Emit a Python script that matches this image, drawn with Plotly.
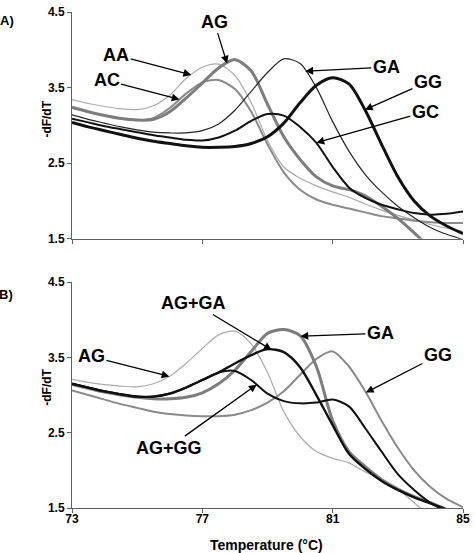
import numpy as np
import plotly.graph_objects as go

# ---------------- data ----------------
temps = [73.0, 73.5, 74.0, 74.5, 75.0, 75.5, 76.0, 76.5, 77.0, 77.5, 78.0, 78.5,
         79.0, 79.5, 80.0, 80.5, 81.0, 81.5, 82.0, 82.5, 83.0, 83.5, 84.0, 84.5, 85.0]

# Panel A
a_AA = [3.34, 3.29, 3.25, 3.22, 3.21, 3.26, 3.40, 3.62, 3.77, 3.81, 3.66, 3.30,
        2.80, 2.45, 2.30, 2.20, 2.12, 2.05, 1.96, 1.88, 1.81, 1.75, 1.69, 1.64, 1.60]
a_AC = [3.23, 3.18, 3.13, 3.09, 3.07, 3.10, 3.23, 3.42, 3.57, 3.60, 3.48, 3.18,
        2.75, 2.38, 2.15, 2.02, 1.95, 1.90, 1.85, 1.80, 1.77, 1.74, 1.72, 1.71, 1.71]
a_AG = [3.24, 3.18, 3.13, 3.09, 3.07, 3.08, 3.18, 3.36, 3.56, 3.76, 3.87, 3.72,
        3.28, 2.85, 2.55, 2.32, 2.20, 2.15, 2.07, 1.93, 1.77, 1.58, 1.38, 1.20, 1.05]
a_GA = [3.14, 3.08, 3.03, 2.98, 2.94, 2.91, 2.90, 2.90, 2.93, 3.02, 3.20, 3.45,
        3.70, 3.88, 3.82, 3.50, 3.05, 2.66, 2.35, 2.12, 1.93, 1.78, 1.65, 1.56, 1.49]
a_GG = [3.04, 2.98, 2.93, 2.88, 2.83, 2.79, 2.76, 2.73, 2.71, 2.71, 2.72, 2.76,
        2.85, 3.03, 3.30, 3.53, 3.63, 3.55, 3.20, 2.75, 2.32, 2.00, 1.80, 1.67, 1.57]
a_GC = [3.09, 3.04, 2.99, 2.95, 2.91, 2.87, 2.84, 2.81, 2.80, 2.84, 2.93, 3.06,
        3.15, 3.13, 2.98, 2.77, 2.45, 2.18, 2.04, 1.95, 1.89, 1.84, 1.82, 1.83, 1.86]

# Panel B
b_AG = [3.21, 3.17, 3.14, 3.12, 3.11, 3.15, 3.25, 3.42, 3.62, 3.80, 3.85, 3.68,
        3.30, 2.78, 2.45, 2.25, 2.16, 2.10, 1.98, 1.88, 1.75, 1.57, 1.38, 1.20, 1.05]
b_AGGA = [3.15, 3.10, 3.05, 3.01, 2.98, 2.98, 3.02, 3.10, 3.20, 3.30, 3.42, 3.53,
          3.61, 3.57, 3.37, 3.00, 2.60, 2.22, 2.02, 1.86, 1.74, 1.64, 1.56, 1.48, 1.40]
b_AGGG = [3.15, 3.10, 3.05, 3.01, 2.98, 2.98, 3.02, 3.10, 3.20, 3.30, 3.32, 3.20,
          3.02, 2.92, 2.89, 2.90, 2.94, 2.85, 2.56, 2.25, 1.95, 1.74, 1.57, 1.45, 1.35]
b_GA = [3.14, 3.09, 3.04, 3.00, 2.97, 2.95, 2.95, 2.97, 3.03, 3.15, 3.33, 3.58,
        3.82, 3.87, 3.79, 3.38, 2.66, 2.25, 2.05, 1.88, 1.75, 1.65, 1.57, 1.48, 1.40]
b_GG = [3.06, 3.00, 2.94, 2.88, 2.83, 2.78, 2.75, 2.73, 2.72, 2.72, 2.74, 2.80,
        2.90, 3.05, 3.27, 3.48, 3.58, 3.38, 3.05, 2.66, 2.30, 2.00, 1.78, 1.62, 1.51]

y_ticks = [1.5, 2.5, 3.5, 4.5]
x_ticks = [73, 77, 81, 85]

# ---------------- styling ----------------
LIGHT = "#ababab"
MID = "#8a8a8a"
THICK = "#7d7d7d"
BLACK = "#111111"

series_a = [
    ("AA", a_AA, LIGHT, 1.2),
    ("AC", a_AC, MID, 2.0),
    ("AG", a_AG, THICK, 3.0),
    ("GA", a_GA, "#262626", 1.2),
    ("GC", a_GC, BLACK, 2.0),
    ("GG", a_GG, BLACK, 3.0),
]
series_b = [
    ("AG", b_AG, LIGHT, 1.2),
    ("GG", b_GG, MID, 2.0),
    ("GA", b_GA, THICK, 3.0),
    ("AG+GA", b_AGGA, BLACK, 2.4),
    ("AG+GG", b_AGGG, BLACK, 2.0),
]

fig = go.Figure()
for name, ys, col, w in series_a:
    fig.add_trace(go.Scatter(x=temps, y=ys, mode="lines", name=name,
                             line=dict(color=col, width=w, shape="spline", smoothing=0.8),
                             xaxis="x", yaxis="y"))
for name, ys, col, w in series_b:
    fig.add_trace(go.Scatter(x=temps, y=ys, mode="lines", name=name,
                             line=dict(color=col, width=w, shape="spline", smoothing=0.8),
                             xaxis="x2", yaxis="y2"))

FONT = "Arial, Liberation Sans, sans-serif"
axis_common = dict(range=[73, 85], tickvals=x_ticks, showline=True, linecolor="#606060",
                   linewidth=1, ticks="outside", ticklen=4, tickcolor="#606060",
                   showgrid=False, zeroline=False,
                   tickfont=dict(family=FONT, size=12, color="black", weight="bold"))
yaxis_common = dict(range=[1.5, 4.5], tickvals=y_ticks, ticktext=[f"{v:.1f}" for v in y_ticks],
                    showline=True, linecolor="#606060", linewidth=1, ticks="outside",
                    ticklen=4, tickcolor="#606060", showgrid=False, zeroline=False,
                    tickfont=dict(family=FONT, size=12, color="black", weight="bold"))

fig.update_layout(
    width=475, height=553,
    margin=dict(l=72, r=10, t=5, b=45),
    plot_bgcolor="white", paper_bgcolor="white",
    showlegend=False,
    xaxis=dict(axis_common, anchor="y", domain=[0, 1], showticklabels=False),
    yaxis=dict(yaxis_common, anchor="x", domain=[0.5427, 1.0]),
    xaxis2=dict(axis_common, anchor="y2", domain=[0, 1], ticklabelstandoff=-4),
    yaxis2=dict(yaxis_common, anchor="x2", domain=[0.0, 0.4553]),
)

# ---------------- labels with arrows ----------------
# (text, series values, x on curve where the arrow tip lands, text offset in px)
labels_a = [
    ("AG", a_AG, 77.76, -13, -42),
    ("AA", a_AA, 76.66, -75, -20),
    ("AC", a_AC, 76.30, -73, -19),
    ("GA", a_GA, 80.16, 81, -4),
    ("GG", a_GG, 81.99, 63, -28),
    ("GC", a_GC, 80.50, 109, -31),
]
labels_b = [
    ("AG", b_AG, 75.99, -78, -20),
    ("AG+GA", b_AGGA, 79.13, -78, -47),
    ("GA", b_GA, 80.01, 80, -3),
    ("GG", b_GG, 82.02, 72, -37),
    ("AG+GG", b_AGGG, 78.67, -88, 63),
]

def add_labels(labels, xref, yref):
    for text, ys, xt, ax, ay in labels:
        yt = float(np.interp(xt, temps, ys))
        fig.add_annotation(x=xt, y=yt, xref=xref, yref=yref, text=text,
                           showarrow=True, arrowhead=2, arrowsize=1.2, arrowwidth=1.3,
                           arrowcolor="black", ax=ax, ay=ay, standoff=0,
                           font=dict(family=FONT, size=18, color="black", weight="bold"))

add_labels(labels_a, "x", "y")
add_labels(labels_b, "x2", "y2")

txt = dict(family=FONT, color="black", weight="bold")
for yc in (0.785, 0.2445):
    fig.add_annotation(text="-dF/dT", xref="paper", yref="paper", x=-0.064, y=yc,
                       xanchor="center", yanchor="middle",
                       textangle=-90, showarrow=False, font=dict(txt, size=12))
fig.add_annotation(text="A)", xref="paper", yref="paper", x=-0.165, y=0.982,
                   xanchor="center", yanchor="middle", showarrow=False, font=dict(txt, size=13))
fig.add_annotation(text="B)", xref="paper", yref="paper", x=-0.168, y=0.431,
                   xanchor="center", yanchor="middle", showarrow=False, font=dict(txt, size=13))
fig.add_annotation(text="Temperature (°C)", xref="paper", yref="paper", x=0.4987, y=-0.0736,
                   xanchor="center", yanchor="middle", showarrow=False, font=dict(txt, size=14))

fig.write_html("out.html", config={"displayModeBar": False},
               post_script="document.body.style.margin='0';document.body.style.overflow='hidden';")
